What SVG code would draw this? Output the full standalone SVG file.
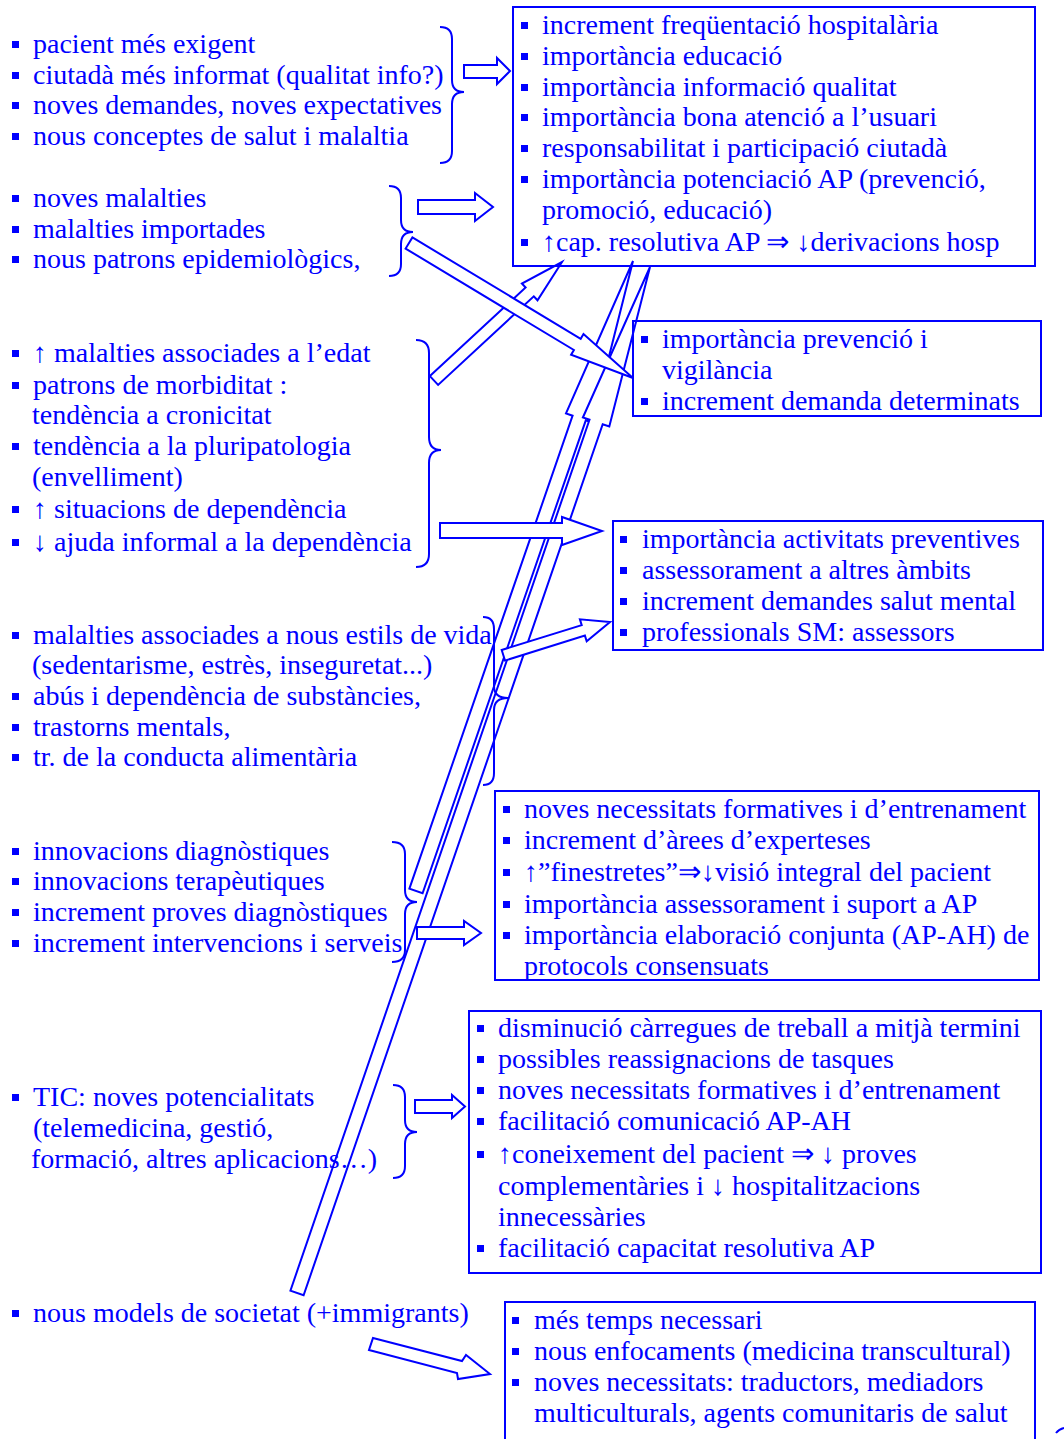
<svg xmlns="http://www.w3.org/2000/svg" width="1064" height="1439" viewBox="0 0 1064 1439">
<style>
.t{font-family:"Liberation Serif","Times New Roman",serif;font-size:28px;fill:#0000ff}
.box{fill:none;stroke:#0000ff;stroke-width:2}
.br{fill:none;stroke:#0000ff;stroke-width:2}
.arr{fill:#ffffff;stroke:#0000ff;stroke-width:2;stroke-linejoin:miter}
</style>
<defs><rect id="b" width="7" height="7" fill="#0000ff"/></defs>
<rect width="1064" height="1439" fill="#ffffff"/>

<g id="connectors">
<polygon class="arr" points="409.4,888.7 572.6,415.7 566,413.4 633,261 592.4,422.6 585.8,420.3 422.6,893.3"/>
<polygon class="arr" points="290.4,1290.7 589.5,419.7 582.9,417.5 650,267 609.3,426.5 602.7,424.3 303.6,1295.3"/>
<polygon class="arr" points="440,523 562,523 562,517 602,531 562,545 562,538 440,538"/>
<polygon class="arr" points="501.7,650 581.7,625.1 579.9,619.3 610,622 586.7,641.3 584.9,635.6 505,660.6"/>
<polygon class="arr" points="417,927 464,927 464,921 481,933 464,945 464,939 417,939"/>
<polygon class="arr" points="415,1100 452,1100 452,1095 465,1106.5 452,1118 452,1113 415,1113"/>
<polygon class="arr" points="429.9,376.1 525.6,287.5 521.9,283.5 562,262 537.5,300.3 533.8,296.3 438.1,384.9"/>
<polygon class="arr" points="412.4,237.4 580.7,338.8 583.5,334.1 633,378 571.1,354.7 573.9,350 405.6,248.6"/>
<polygon class="arr" points="464,65 497,65 497,58 510,71 497,84 497,78 464,78"/>
<polygon class="arr" points="418,200 475,200 475,193 493,207 475,221 475,214 418,214"/>
<polygon class="arr" points="373,1338 462,1361 466,1355 490,1374 458,1379 457,1373 369,1350"/>
</g>

<g id="left1">
<use href="#b" x="12" y="41"/><text class="t" x="33" y="53">pacient més exigent</text>
<use href="#b" x="12" y="72"/><text class="t" x="33" y="84">ciutadà més informat (qualitat info?)</text>
<use href="#b" x="12" y="102"/><text class="t" x="33" y="114">noves demandes, noves expectatives</text>
<use href="#b" x="12" y="133"/><text class="t" x="33" y="145">nous conceptes de salut i malaltia</text>
<path class="br" d="M440,27 Q452,27 452,39 L452,80 Q452,92 464,92 Q452,92 452,104 L452,151 Q452,163 440,163"/>
</g>

<g id="left2">
<use href="#b" x="12" y="195"/><text class="t" x="33" y="207">noves malalties</text>
<use href="#b" x="12" y="226"/><text class="t" x="33" y="238">malalties importades</text>
<use href="#b" x="12" y="256"/><text class="t" x="33" y="268">nous patrons epidemiològics,</text>
<path class="br" d="M389,186 Q401,186 401,198 L401,220 Q401,232 413,232 Q401,232 401,244 L401,264 Q401,276 389,276"/>
</g>

<g id="left3">
<use href="#b" x="12" y="350"/><text class="t" x="33" y="362">↑ malalties associades a l’edat</text>
<use href="#b" x="12" y="382"/><text class="t" x="33" y="394">patrons de morbiditat :</text>
<text class="t" x="32" y="424">tendència a cronicitat</text>
<use href="#b" x="12" y="443"/><text class="t" x="33" y="455">tendència a la pluripatologia</text>
<text class="t" x="32" y="486">(envelliment)</text>
<use href="#b" x="12" y="506"/><text class="t" x="33" y="518">↑ situacions de dependència</text>
<use href="#b" x="12" y="539"/><text class="t" x="33" y="551">↓ ajuda informal a la dependència</text>
<path class="br" d="M416,340 Q429,340 429,353 L429,437 Q429,450 441,450 Q429,450 429,463 L429,554 Q429,567 416,567"/>
</g>

<g id="left4">
<use href="#b" x="12" y="632"/><text class="t" x="33" y="644">malalties associades a nous estils de vida</text>
<text class="t" x="32" y="674">(sedentarisme, estrès, inseguretat...)</text>
<use href="#b" x="12" y="693"/><text class="t" x="33" y="705">abús i dependència de substàncies,</text>
<use href="#b" x="12" y="724"/><text class="t" x="33" y="736">trastorns mentals,</text>
<use href="#b" x="12" y="754"/><text class="t" x="33" y="766">tr. de la conducta alimentària</text>
<path class="br" d="M483,617 Q494,617 494,629 L494,686 Q494,698 508,698 Q494,698 494,710 L494,773 Q494,785 483,785"/>
</g>

<g id="left5">
<use href="#b" x="12" y="848"/><text class="t" x="33" y="860">innovacions diagnòstiques</text>
<use href="#b" x="12" y="878"/><text class="t" x="33" y="890">innovacions terapèutiques</text>
<use href="#b" x="12" y="909"/><text class="t" x="33" y="921">increment proves diagnòstiques</text>
<use href="#b" x="12" y="940"/><text class="t" x="33" y="952">increment intervencions i serveis</text>
<path class="br" d="M392,842 Q405,842 405,854 L405,890 Q405,902 417,902 Q405,902 405,914 L405,950 Q405,962 392,962"/>
</g>

<g id="left6">
<use href="#b" x="12" y="1094"/><text class="t" x="33" y="1106">TIC: noves potencialitats</text>
<text class="t" x="33" y="1137">(telemedicina, gestió,</text>
<text class="t" x="31" y="1168">formació, altres aplicacions…)</text>
<path class="br" d="M393,1085 Q405,1085 405,1097 L405,1120 Q405,1132 417,1132 Q405,1132 405,1144 L405,1166 Q405,1178 393,1178"/>
</g>

<g id="left7">
<use href="#b" x="12" y="1310"/><text class="t" x="33" y="1322">nous models de societat (+immigrants)</text>
</g>

<g id="box1">
<rect class="box" x="513" y="7" width="522" height="259"/>
<use href="#b" x="521" y="22"/><text class="t" x="542" y="34">increment freqüentació hospitalària</text>
<use href="#b" x="521" y="53"/><text class="t" x="542" y="65">importància educació</text>
<use href="#b" x="521" y="84"/><text class="t" x="542" y="96">importància informació qualitat</text>
<use href="#b" x="521" y="114"/><text class="t" x="542" y="126">importància bona atenció a l’usuari</text>
<use href="#b" x="521" y="145"/><text class="t" x="542" y="157">responsabilitat i participació ciutadà</text>
<use href="#b" x="521" y="176"/><text class="t" x="542" y="188">importància potenciació AP (prevenció,</text>
<text class="t" x="542" y="219">promoció, educació)</text>
<use href="#b" x="521" y="239"/><text class="t" x="542" y="251">↑cap. resolutiva AP ⇒ ↓derivacions hosp</text>
</g>

<g id="box2">
<rect class="box" x="633" y="321" width="408" height="95"/>
<use href="#b" x="641" y="336"/><text class="t" x="662" y="348">importància prevenció i</text>
<text class="t" x="662" y="379">vigilància</text>
<use href="#b" x="641" y="398"/><text class="t" x="662" y="410">increment demanda determinats</text>
</g>

<g id="box3">
<rect class="box" x="613" y="521" width="430" height="129"/>
<use href="#b" x="620" y="536"/><text class="t" x="642" y="548">importància activitats preventives</text>
<use href="#b" x="620" y="567"/><text class="t" x="642" y="579">assessorament a altres àmbits</text>
<use href="#b" x="620" y="598"/><text class="t" x="642" y="610">increment demandes salut mental</text>
<use href="#b" x="620" y="629"/><text class="t" x="642" y="641">professionals SM: assessors</text>
</g>

<g id="box4">
<rect class="box" x="495" y="791" width="544" height="189"/>
<use href="#b" x="503" y="806"/><text class="t" x="524" y="818">noves necessitats formatives i d’entrenament</text>
<use href="#b" x="503" y="837"/><text class="t" x="524" y="849">increment d’àrees d’experteses</text>
<use href="#b" x="503" y="869"/><text class="t" x="524" y="881">↑”finestretes”⇒↓visió integral del pacient</text>
<use href="#b" x="503" y="901"/><text class="t" x="524" y="913">importància assessorament i suport a AP</text>
<use href="#b" x="503" y="932"/><text class="t" x="524" y="944">importància elaboració conjunta (AP-AH) de</text>
<text class="t" x="524" y="975">protocols consensuats</text>
</g>

<g id="box5">
<rect class="box" x="469" y="1011" width="572" height="262"/>
<use href="#b" x="477" y="1025"/><text class="t" x="498" y="1037">disminució càrregues de treball a mitjà termini</text>
<use href="#b" x="477" y="1056"/><text class="t" x="498" y="1068">possibles reassignacions de tasques</text>
<use href="#b" x="477" y="1087"/><text class="t" x="498" y="1099">noves necessitats formatives i d’entrenament</text>
<use href="#b" x="477" y="1118"/><text class="t" x="498" y="1130">facilitació comunicació AP-AH</text>
<use href="#b" x="477" y="1151"/><text class="t" x="498" y="1163">↑coneixement del pacient ⇒ ↓ proves</text>
<text class="t" x="498" y="1195">complementàries i ↓ hospitalitzacions</text>
<text class="t" x="498" y="1226">innecessàries</text>
<use href="#b" x="477" y="1245"/><text class="t" x="498" y="1257">facilitació capacitat resolutiva AP</text>
</g>

<g id="box6">
<rect class="box" x="505" y="1302" width="530" height="150"/>
<use href="#b" x="512" y="1317"/><text class="t" x="534" y="1329">més temps necessari</text>
<use href="#b" x="512" y="1348"/><text class="t" x="534" y="1360">nous enfocaments (medicina transcultural)</text>
<use href="#b" x="512" y="1379"/><text class="t" x="534" y="1391">noves necessitats: traductors, mediadors</text>
<text class="t" x="534" y="1422">multiculturals, agents comunitaris de salut</text>
</g>

<path class="br" d="M1056,1433 Q1059,1429 1064,1428"/>
</svg>
